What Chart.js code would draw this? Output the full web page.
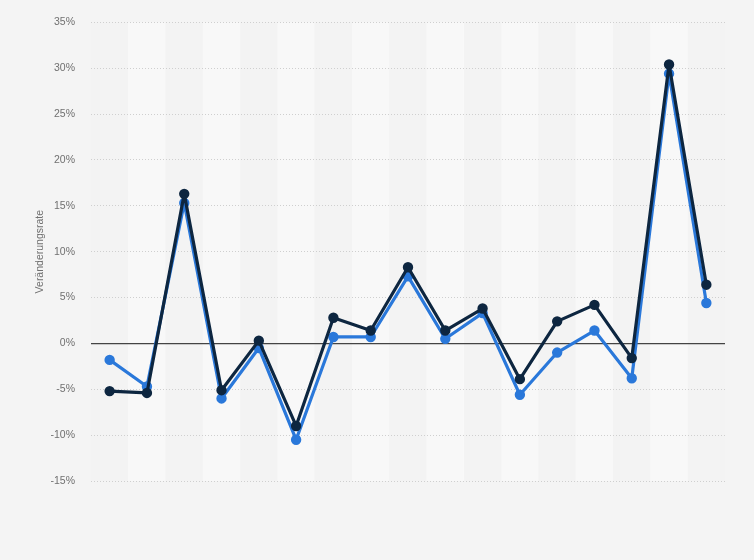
<!DOCTYPE html>
<html>
<head>
<meta charset="utf-8">
<script src="https://cdn.jsdelivr.net/npm/chart.js@4"></script>
<style>
  html, body { margin: 0; padding: 0; background: #f4f4f4; }
  #wrap { width: 754px; height: 560px; }
</style>
</head>
<body>
<div id="wrap"><canvas id="chart"></canvas></div>
<script>
// categories (x labels are not shown in the picture)
const categories = ['1', '2', '3', '4', '5', '6', '7', '8', '9', '10', '11', '12', '13', '14', '15', '16', '17'];

// dark series
const seriesDark = [-5.2, -5.4, 16.3, -5.1, 0.3, -9.0, 2.8, 1.4, 8.3, 1.4, 3.8, -3.9, 2.4, 4.2, -1.6, 30.4, 6.4];
// blue series
const seriesBlue = [-1.8, -4.7, 15.3, -6.0, -0.5, -10.5, 0.7, 0.7, 7.3, 0.5, 3.3, -5.6, -1.0, 1.4, -3.8, 29.4, 4.4];

const yTicks = [-15, -10, -5, 0, 5, 10, 15, 20, 25, 30, 35];
const yTitle = 'Veränderungsrate';

// alternating column bands behind the plot
const bands = {
    id: 'bands',
    beforeDraw(chart) {
        const { ctx, chartArea, scales } = chart;
        const x = scales.x;
        const step = chartArea.width / categories.length;
        ctx.save();
        for (let i = 0; i < categories.length; i++) {
            const cx = x.getPixelForValue(i);
            ctx.fillStyle = i % 2 === 1 ? '#f8f8f8' : '#f3f3f3';
            ctx.fillRect(cx - step / 2, chartArea.top, step, chartArea.height);
        }
        ctx.restore();
    }
};

const font = { family: 'Arial, "Liberation Sans", sans-serif', size: 10.5 };

new Chart(document.getElementById('chart'), {
    type: 'line',
    data: {
        labels: categories,
        datasets: [
            {
                label: 'A',
                data: seriesDark,
                borderColor: '#0d2640',
                backgroundColor: '#0d2640',
                borderWidth: 3.2,
                borderJoinStyle: 'round',
                pointRadius: 3.6,
                tension: 0
            },
            {
                label: 'B',
                data: seriesBlue,
                borderColor: '#2a78da',
                backgroundColor: '#2a78da',
                borderWidth: 3.2,
                borderJoinStyle: 'round',
                pointRadius: 3.6,
                tension: 0
            }
        ]
    },
    options: {
        responsive: true,
        maintainAspectRatio: false,
        animation: false,
        layout: {
            padding: { left: 34, right: 29, top: 14, bottom: 71 }
        },
        plugins: {
            legend: { display: false },
            tooltip: { enabled: false }
        },
        scales: {
            x: {
                offset: true,
                grid: { display: false },
                border: { display: false },
                ticks: { display: false }
            },
            y: {
                min: -15,
                max: 35,
                afterBuildTicks: scale => {
                    scale.ticks = yTicks.map(v => ({ value: v }));
                },
                afterFit: scale => {
                    scale.width = 57;
                },
                border: {
                    display: false,
                    dash: ctx => (ctx.tick && ctx.tick.value === 0) ? [] : [1, 2]
                },
                grid: {
                    color: ctx => ctx.tick.value === 0 ? '#444444' : '#cfcfcf',
                    lineWidth: ctx => ctx.tick.value === 0 ? 1.2 : 1,
                    drawTicks: false
                },
                ticks: {
                    padding: 16,
                    color: '#707070',
                    font: font,
                    callback: v => v + '%'
                },
                title: {
                    display: true,
                    text: yTitle,
                    color: '#707070',
                    padding: 0,
                    font: font
                }
            }
        }
    },
    plugins: [bands]
});
</script>
</body>
</html>
